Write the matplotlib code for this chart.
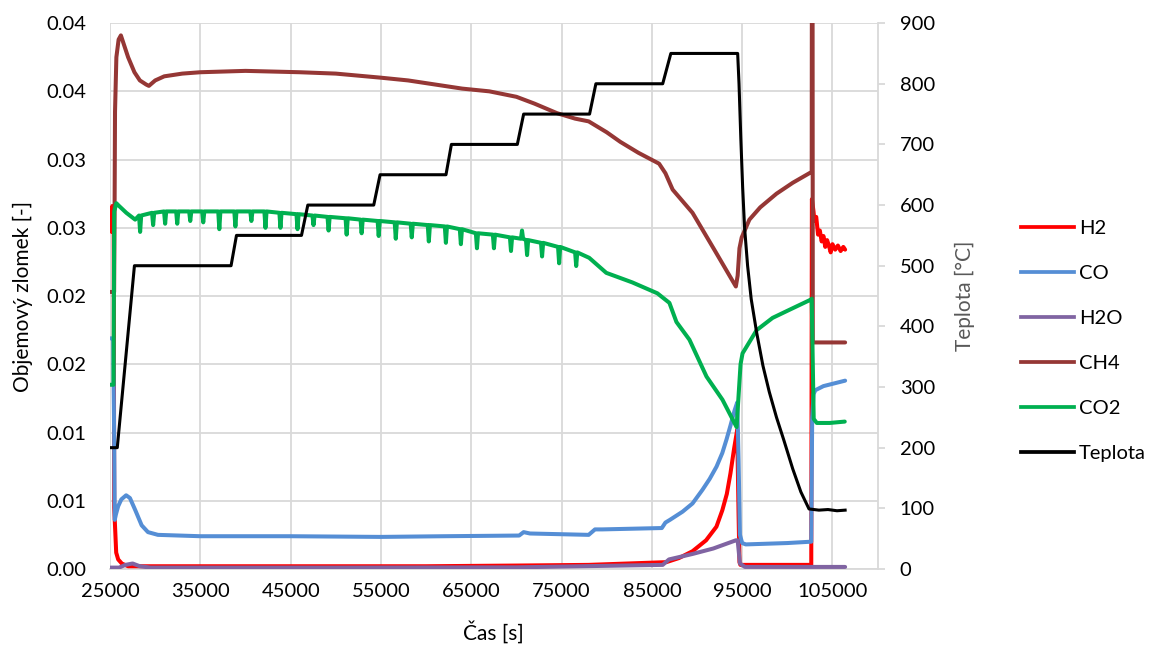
import matplotlib
matplotlib.use("Agg")
import matplotlib.pyplot as plt
from matplotlib.lines import Line2D

plt.rcParams['font.family'] = ['Lato', 'DejaVu Sans']

# ---- data -------------------------------------------------------------
h2_t = [25050, 25120, 25180, 25250, 25320, 25400, 25460, 25560, 25680, 25900,
        26300, 27000, 30000, 40000, 50000, 60000, 70000, 78000, 86600, 88000,
        89500, 91000, 92150, 92800, 93300, 93700, 94100, 94450, 94600, 94700,
        94800, 100000, 102650, 102720, 102900, 103000, 103200, 103400, 103600,
        103800, 104000, 104200, 104400, 104600, 104800, 105000, 105300, 105600,
        105900, 106200, 106400]
h2_v = [0.0250, 0.0264, 0.0247, 0.0266, 0.0249, 0.0258, 0.0045, 0.0030, 0.0012, 0.0007,
        0.0004, 0.0002, 0.0002, 0.0002, 0.0002, 0.0002, 0.00025, 0.0003, 0.0005, 0.0008,
        0.0013, 0.0021, 0.0031, 0.0043, 0.0055, 0.0070, 0.0088, 0.0102, 0.0040, 0.0005,
        0.0003, 0.0003, 0.0003, 0.0271, 0.0262, 0.0255, 0.0258, 0.0245, 0.0248,
        0.0240, 0.0244, 0.0236, 0.0241, 0.0237, 0.0232, 0.0238, 0.0234, 0.0237,
        0.0233, 0.0236, 0.0234]

co_t = [25050, 25350, 25450, 25520, 25650, 25900, 26250, 26780, 27200, 27800,
        28500, 29200, 30300, 35000, 45000, 55000, 62000, 70300, 70800, 71500,
        78000, 78700, 79500, 86100, 86500, 87000, 88400, 89500, 90600, 91400,
        92160, 92800, 93270, 93700, 94150, 94450, 94600, 94750, 95000, 95400,
        100000, 102650, 102750, 102900, 103100, 104000, 105200, 106400]
co_v = [0.0169, 0.0169, 0.0100, 0.0036, 0.0040, 0.0046, 0.0051, 0.0054, 0.0052, 0.0043,
        0.0032, 0.0027, 0.0025, 0.0024, 0.0024, 0.00235, 0.0024, 0.00245, 0.0027, 0.0026,
        0.0025, 0.0029, 0.0029, 0.0030, 0.0034, 0.0036, 0.0042, 0.0048, 0.0058, 0.0066,
        0.0075, 0.0085, 0.0095, 0.0105, 0.0116, 0.0122, 0.0080, 0.0025, 0.0019, 0.0018,
        0.0019, 0.0020, 0.0110, 0.0128, 0.0131, 0.0134, 0.0136, 0.0138]

h2o_t = [25050, 26000, 26700, 27500, 28300, 29500, 50000, 70000, 86200, 86900,
         89500, 91800, 94300, 94500, 94750, 95300, 106400]
h2o_v = [0.0001, 0.0001, 0.0003, 0.0004, 0.0002, 0.0001, 0.0001, 0.00012, 0.0003, 0.0007,
         0.0011, 0.0015, 0.0021, 0.0021, 0.0004, 0.00015, 0.00015]

ch4_t = [25050, 25450, 25500, 25550, 25700, 25950, 26200, 26500, 27000, 27700,
         28300, 29000, 29300, 30000, 31000, 33000, 35000, 40000, 46000, 50000,
         55000, 58000, 61000, 64000, 67000, 70000, 72000, 74500, 76500, 78000,
         80000, 81500, 83500, 85800, 86500, 87300, 89500, 92000, 94300, 94500,
         94700, 94950, 95800, 97000, 98800, 100600, 102700, 102760, 102820, 106400]
ch4_v = [0.0203, 0.0203, 0.0260, 0.0335, 0.0375, 0.0388, 0.0391, 0.0385, 0.0375, 0.0364,
         0.0358, 0.0355, 0.0354, 0.0358, 0.0361, 0.0363, 0.0364, 0.0365, 0.0364, 0.0363,
         0.0360, 0.0358, 0.0355, 0.0352, 0.0350, 0.0346, 0.0341, 0.0334, 0.0330, 0.0328,
         0.0320, 0.0313, 0.0305, 0.0297, 0.0290, 0.0278, 0.0261, 0.0233, 0.0207, 0.0215,
         0.0235, 0.0243, 0.0256, 0.0265, 0.0275, 0.0283, 0.0291, 0.0800, 0.0166, 0.0166]

# CO2: start, then the periodic short drops (before / drop / after), then the tail
co2_start_t = [25050, 25380, 25460, 25700, 26000, 26800, 27780]
co2_start_v = [0.0135, 0.0135, 0.0262, 0.0268, 0.0266, 0.0261, 0.0256]
co2_drop_t = [28210, 28330, 28450, 29650, 29770, 29890, 30980, 31100, 31220,
              32320, 32440, 32560, 33760, 33880, 34000, 35200, 35320, 35440,
              36980, 37100, 37220, 38760, 38880, 39000, 40530, 40650, 40770,
              42090, 42210, 42330, 43750, 43870, 43990, 45640, 45760, 45880,
              47410, 47530, 47650, 49080, 49200, 49320, 51080, 51200, 51320,
              52740, 52860, 52980, 54630, 54750, 54870, 56520, 56640, 56760,
              58290, 58410, 58530, 60180, 60300, 60420, 62070, 62190, 62310,
              63730, 63850, 63970, 65510, 65630, 65750, 67390, 67510, 67630,
              69280, 69400, 69520, 70500, 70620, 70740, 71060, 71180, 71300,
              72720, 72840, 72960, 74610, 74730, 74850, 76500, 76620, 76740]
co2_drop_v = [0.0259, 0.0247, 0.0259, 0.0261, 0.0252, 0.0261, 0.0262, 0.0253, 0.0262,
              0.0262, 0.0253, 0.0262, 0.0262, 0.0255, 0.0262, 0.0262, 0.0254, 0.0262,
              0.0262, 0.0249, 0.0262, 0.0262, 0.0251, 0.0262, 0.0262, 0.0255, 0.0262,
              0.0262, 0.0250, 0.0262, 0.0261, 0.0250, 0.0261, 0.0260, 0.0249, 0.0260,
              0.0259, 0.0252, 0.0259, 0.0258, 0.0248, 0.0258, 0.0257, 0.0245, 0.0257,
              0.0256, 0.0246, 0.0256, 0.0255, 0.0244, 0.0255, 0.0254, 0.0242, 0.0254,
              0.0253, 0.0243, 0.0253, 0.0252, 0.0240, 0.0252, 0.0251, 0.0239, 0.0251,
              0.0249, 0.0238, 0.0249, 0.0246, 0.0235, 0.0246, 0.0245, 0.0235, 0.0245,
              0.0243, 0.0233, 0.0243, 0.0242, 0.0248, 0.0242, 0.0241, 0.0230, 0.0241,
              0.0239, 0.0229, 0.0239, 0.0236, 0.0224, 0.0236, 0.0232, 0.0222, 0.0232]
co2_tail_t = [78060, 79950, 82830, 85610, 86940, 87720, 89160, 91050, 92820, 94380,
              94820, 95040, 96600, 98370, 100260, 102480, 102700, 102920, 103260,
              104700, 106360]
co2_tail_v = [0.0228, 0.0217, 0.0210, 0.0202, 0.0195, 0.0181, 0.0168, 0.0141, 0.0124, 0.0104,
              0.0150, 0.0158, 0.0175, 0.0184, 0.0190, 0.0197, 0.0198, 0.0110, 0.0107,
              0.0107, 0.0108]

temp_t = [25050, 25800, 27700, 38400, 39000, 46200, 46900, 54200, 54900, 62200,
          62800, 70100, 70800, 78100, 78800, 86200, 87100, 94500, 94650, 94850,
          95050, 95260, 95600, 96000, 96600, 97300, 98000, 98800, 99600, 100600,
          101500, 102400, 103500, 104500, 105500, 106400]
temp_v = [200, 200, 500, 500, 550, 550, 600, 600, 650, 650,
          700, 700, 750, 750, 800, 800, 850, 850, 800, 710,
          630, 564, 500, 445, 390, 335, 292, 250, 213, 165,
          127, 99, 97, 98, 96, 97]

series_names = ["H2", "CO", "H2O", "CH4", "CO2", "Teplota"]
series_colors = ["#FF0000", "#558ED5", "#8064A2", "#953735", "#00B050", "#000000"]

x_ticks = [25000, 35000, 45000, 55000, 65000, 75000, 85000, 95000, 105000]
y_ticks = [0.0, 0.005, 0.01, 0.015, 0.02, 0.025, 0.03, 0.035, 0.04]
y_tick_labels = ["0.00", "0.01", "0.01", "0.02", "0.02", "0.03", "0.03", "0.04", "0.04"]
t_ticks = [0, 100, 200, 300, 400, 500, 600, 700, 800, 900]

co2_t = co2_start_t + co2_drop_t + co2_tail_t
co2_v = co2_start_v + co2_drop_v + co2_tail_v

# ---- figure -------------------------------------------------------------
fig = plt.figure(figsize=(11.56, 6.51), dpi=100)
ax = fig.add_axes([0.0952, 0.126, 0.664, 0.8385])
ax2 = ax.twinx()

grid_c = "#D9D9D9"
fs = 14.5
lw = 2.9

gas = [(h2_t, h2_v), (co_t, co_v), (h2o_t, h2o_v), (ch4_t, ch4_v), (co2_t, co2_v)]
for (t, v), c in zip(gas, series_colors[:5]):
    ax.plot(t, v, color=c, lw=lw, solid_joinstyle="round", solid_capstyle="round", zorder=3)
ax2.plot(temp_t, temp_v, color=series_colors[5], lw=2.2, solid_joinstyle="round", zorder=3)

ax.set_xlim(25000, 110000)
ax.set_ylim(0, 0.04)
ax2.set_ylim(0, 900)

ax.set_xticks(x_ticks)
ax.set_xticklabels([str(x) for x in x_ticks])
ax.set_yticks(y_ticks)
ax.set_yticklabels(y_tick_labels)
ax2.set_yticks(t_ticks)
ax2.set_yticklabels([str(v) for v in t_ticks])

ax.grid(True, color=grid_c, lw=1.3)
ax.set_axisbelow(True)

for a in (ax, ax2):
    for s in a.spines.values():
        s.set_visible(False)
ax.spines["bottom"].set_visible(True)
ax.spines["bottom"].set_color(grid_c)
ax.spines["bottom"].set_linewidth(1.3)
ax2.spines["right"].set_visible(True)
ax2.spines["right"].set_color(grid_c)
ax2.spines["right"].set_linewidth(1.3)

ax.tick_params(axis="x", length=0, pad=10, labelsize=fs, colors="black")
ax.tick_params(axis="y", length=0, pad=17, labelsize=fs, colors="black")
ax2.tick_params(axis="y", length=5, width=1.3, color=grid_c, pad=11, labelsize=fs,
                labelcolor="black")

ax.set_xlabel("Čas [s]", fontsize=fs + 0.5, labelpad=15)
ax.set_ylabel("Objemový zlomek [-]", fontsize=fs + 0.5, labelpad=10)
ax2.set_ylabel("Teplota [°C]", fontsize=fs + 0.5, color="#595959", rotation=90, labelpad=14)

handles = [Line2D([0], [0], color=c, lw=2.7) for c in series_colors]
fig.legend(handles, series_names, loc="center left", bbox_to_anchor=(0.8835, 0.476),
           frameon=False, fontsize=fs, handlelength=2.6, handletextpad=0.25,
           labelspacing=1.39, borderpad=0, borderaxespad=0)

fig.savefig("out.png", dpi=100)
